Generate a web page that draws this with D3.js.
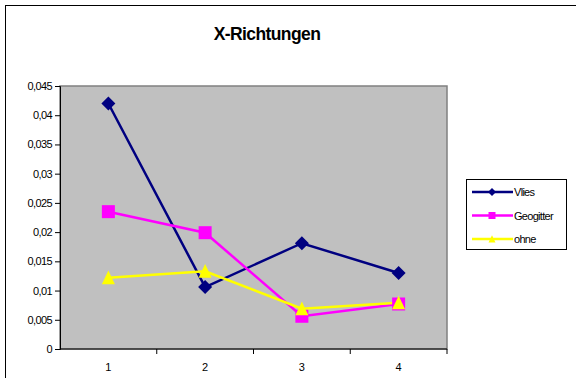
<!DOCTYPE html>
<html>
<head>
<meta charset="utf-8">
<script src="https://cdn.jsdelivr.net/npm/d3@7"></script>
<style>
  html, body { margin: 0; padding: 0; background: #fff; }
  svg { display: block; font-family: Arial, "Liberation Sans", sans-serif; }
</style>
</head>
<body>
<svg id="chart" width="576" height="378"></svg>
<script>
const categories = ["1", "2", "3", "4"];
const vlies = [0.042, 0.0106, 0.0181, 0.013];
const geogitter = [0.0235, 0.0199, 0.0056, 0.0077];
const ohne = [0.0122, 0.0133, 0.0069, 0.0079];
const yTicks = [0, 0.005, 0.01, 0.015, 0.02, 0.025, 0.03, 0.035, 0.04, 0.045];

const series = [
  { name: "Vlies", values: vlies, color: "#000080", symbol: "diamond" },
  { name: "Geogitter", values: geogitter, color: "#FF00FF", symbol: "square" },
  { name: "ohne", values: ohne, color: "#FFFF00", symbol: "triangle" }
];

const svg = d3.select("#chart");
const plot = { left: 60, top: 86, right: 447, bottom: 349 };

// chart frame
svg.append("rect").attr("x", 5.5).attr("y", 5.5).attr("width", 600).attr("height", 400)
  .attr("fill", "#fff").attr("stroke", "#000").attr("stroke-width", 1);

svg.append("text").attr("x", 267).attr("y", 40).attr("text-anchor", "middle")
  .attr("font-size", 17.5).attr("font-weight", "bold").attr("letter-spacing", -0.6)
  .text("X-Richtungen");

const x = d3.scalePoint().domain(categories).range([plot.left, plot.right]).padding(0.5);
const xBand = d3.scaleBand().domain(categories).range([plot.left, plot.right]);
const y = d3.scaleLinear().domain([0, 0.045]).range([plot.bottom, plot.top]);

// plot area
svg.append("rect").attr("x", plot.left).attr("y", plot.top)
  .attr("width", plot.right - plot.left).attr("height", plot.bottom - plot.top)
  .attr("fill", "#C0C0C0").attr("stroke", "#808080").attr("stroke-width", 1.5);

const fmt = d => d3.format("")(+d.toFixed(3)).replace(".", ",");

// y axis
const yAxis = svg.append("g").attr("transform", `translate(${plot.left},0)`)
  .call(d3.axisLeft(y).tickValues(yTicks).tickSize(5).tickPadding(3).tickFormat(fmt));
yAxis.selectAll("text").attr("font-size", 11).attr("letter-spacing", -0.6).attr("fill", "#000");
yAxis.selectAll("line, path").attr("stroke", "#000");

// x axis with ticks on category boundaries
const xAxisG = svg.append("g").attr("transform", `translate(0,${plot.bottom})`);
xAxisG.append("line").attr("x1", plot.left).attr("x2", plot.right).attr("stroke", "#000").attr("stroke-width", 1);
xAxisG.selectAll("line.tick").data(categories).enter().append("line")
  .attr("x1", d => xBand(d) + xBand.bandwidth()).attr("x2", d => xBand(d) + xBand.bandwidth())
  .attr("y1", 0).attr("y2", 5).attr("stroke", "#000");
xAxisG.selectAll("text").data(categories).enter().append("text")
  .attr("x", d => x(d)).attr("y", 22).attr("text-anchor", "middle")
  .attr("font-size", 11).text(d => d);

const line = d3.line().x((d, i) => x(categories[i])).y(d => y(d));

// marker outlines, r = half extent in px
function markerPath(symbol, r) {
  if (symbol === "diamond") return `M0,${-r}L${r},0L0,${r}L${-r},0Z`;
  if (symbol === "square") return `M${-r},${-r}H${r}V${r}H${-r}Z`;
  return `M0,${-r * 1.1}L${r},${r}L${-r},${r}Z`;
}

function marker(g, s, cx, cy, r) {
  g.append("path")
    .attr("d", markerPath(s.symbol, r))
    .attr("transform", `translate(${cx},${cy})`)
    .attr("fill", s.color);
}

series.forEach(s => {
  svg.append("path").datum(s.values).attr("d", line)
    .attr("fill", "none").attr("stroke", s.color).attr("stroke-width", 2.5);
});
series.forEach(s => {
  const g = svg.append("g");
  const r = s.symbol === "diamond" ? 7 : 6.5;
  s.values.forEach((v, i) => marker(g, s, x(categories[i]), y(v), r));
});

// legend
const lg = svg.append("g");
lg.append("rect").attr("x", 466.5).attr("y", 179.5).attr("width", 100).attr("height", 70)
  .attr("fill", "#fff").attr("stroke", "#000");
series.forEach((s, i) => {
  const cy = 192 + i * 23.5;
  lg.append("line").attr("x1", 472).attr("x2", 513).attr("y1", cy).attr("y2", cy)
    .attr("stroke", s.color).attr("stroke-width", 2.5);
  marker(lg, s, 492, cy, s.symbol === "diamond" ? 4 : 3.5);
  lg.append("text").attr("x", 514).attr("y", cy + 4).attr("font-size", 11)
    .attr("letter-spacing", -0.7).text(s.name);
});
</script>
</body>
</html>
